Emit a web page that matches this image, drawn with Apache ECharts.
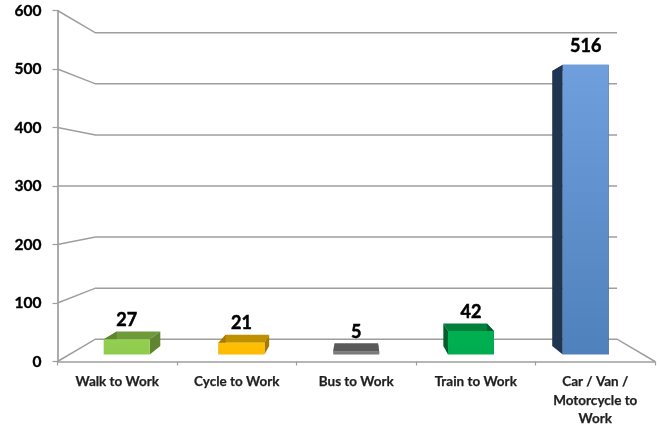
<!DOCTYPE html>
<html>
<head>
<meta charset="utf-8">
<style>
  html, body { margin: 0; padding: 0; background: #fff; }
  #chart { width: 657px; height: 425px; }
</style>
<script src="https://cdn.jsdelivr.net/npm/echarts@6/dist/echarts.min.js"></script>
</head>
<body>
<div id="chart"></div>
<script>
var categories = ['Walk to Work', 'Cycle to Work', 'Bus to Work', 'Train to Work', 'Car / Van /\nMotorcycle to\nWork'];
var values = [27, 21, 5, 42, 516];
var yTicks = [0, 100, 200, 300, 400, 500, 600];
var frontColors = [['#92d050', '#8fcb4d'], ['#ffc000', '#fdbb00'], ['#808080', '#757575'], ['#00b050', '#00ad4e'], ['#6f9fdc', '#4f81bd']];
var topColors = ['#6f9a3a', '#bf9000', '#5a5a5a', '#00803a', '#5a83b8'];
var sideColors = ['#5f8531', '#a67c00', '#4d4d4d', '#00602c', '#1f3550'];

// 透视比例：1 = 前面，数值越小越靠后
var WALL_DEPTH = 0.873;
var BAR_FRONT = 0.96;
var BAR_BACK = 0.911;
var BAR_WIDTH = 0.4;
var LINE_COLOR = '#9e9e9e';

var chart = echarts.init(document.getElementById('chart'));

// 把前面坐标按比例缩向消失点（x轴中点，300刻度）
function projector(api) {
  var left = api.coord([0, 0])[0] - api.size([1, 0])[0] / 2;
  var vx = left + api.size([1, 0])[0] * categories.length / 2;
  var vy = api.coord([0, 300])[1];
  return function (p, s) {
    return [vx + (p[0] - vx) * s, vy + (p[1] - vy) * s];
  };
}

function renderWall(params, api) {
  var project = projector(api);
  var band = api.size([1, 0])[0];
  var v = api.value(0);
  var left = [api.coord([0, v])[0] - band / 2, api.coord([0, v])[1]];
  var right = [left[0] + band * categories.length, left[1]];
  var pts = [left, project(left, WALL_DEPTH), project(right, WALL_DEPTH)];
  if (v === 0) pts.push(right); // 地面右边那条斜线
  return {
    type: 'polyline',
    shape: { points: pts },
    style: { fill: null, stroke: LINE_COLOR, lineWidth: 1.5 }
  };
}

function renderBar(params, api) {
  var project = projector(api);
  var i = api.value(0);
  var v = api.value(1);
  var half = api.size([1, 0])[0] * BAR_WIDTH / 2;
  var base = api.coord([i, 0]);
  var top = api.coord([i, v]);
  function pt(side, upper, s) {
    return project([base[0] + side * half, upper ? top[1] : base[1]], s);
  }
  function face(points, fill) {
    return { type: 'polygon', shape: { points: points }, style: { fill: fill } };
  }
  var frontTop = pt(-1, true, BAR_FRONT);
  var frontTopR = pt(1, true, BAR_FRONT);
  return {
    type: 'group',
    children: [
      // 顶面先画，高柱子的顶面会被侧面和正面盖住
      face([pt(-1, true, BAR_BACK), pt(1, true, BAR_BACK), pt(1, true, BAR_FRONT), pt(-1, true, BAR_FRONT)], topColors[i]),
      face([pt(-1, true, BAR_BACK), pt(-1, true, BAR_FRONT), pt(-1, false, BAR_FRONT), pt(-1, false, BAR_BACK)], sideColors[i]),
      face([pt(1, true, BAR_BACK), pt(1, true, BAR_FRONT), pt(1, false, BAR_FRONT), pt(1, false, BAR_BACK)], sideColors[i]),
      face([frontTop, frontTopR, pt(1, false, BAR_FRONT), pt(-1, false, BAR_FRONT)], {
        type: 'linear', x: 0, y: 0, x2: 0, y2: 1,
        colorStops: [{ offset: 0, color: frontColors[i][0] }, { offset: 1, color: frontColors[i][1] }]
      }),
      {
        type: 'text',
        style: {
          x: (frontTop[0] + frontTopR[0]) / 2,
          y: frontTop[1] - 19,
          text: String(v),
          align: 'center',
          verticalAlign: 'middle',
          font: 'bold 18px Lato',
          fill: '#000',
          stroke: '#000',
          lineWidth: 0.5
        }
      }
    ]
  };
}

var option = {
  animation: false,
  backgroundColor: '#fff',
  grid: { left: 57.5, right: 2, top: 10.5, bottom: 63.5, outerBoundsMode: 'none' },
  xAxis: {
    type: 'category',
    data: categories,
    boundaryGap: true,
    axisLine: { lineStyle: { color: LINE_COLOR, width: 1.5 } },
    axisTick: { show: true, alignWithLabel: false, length: 4, lineStyle: { color: LINE_COLOR, width: 1.2 } },
    axisLabel: { interval: 0, margin: 11, fontFamily: 'Lato', fontWeight: 'bold', fontSize: 13.5, lineHeight: 18.5, color: '#1f1f1f', textBorderColor: '#1f1f1f', textBorderWidth: 0.25 }
  },
  yAxis: {
    type: 'value',
    min: 0,
    max: 600,
    interval: 100,
    splitLine: { show: false },
    axisLine: { show: true, lineStyle: { color: LINE_COLOR, width: 1.7 } },
    axisTick: { show: true, length: 5, lineStyle: { color: LINE_COLOR, width: 1.2 } },
    axisLabel: { margin: 16, fontFamily: 'Lato', fontWeight: 'bold', fontSize: 15.5, color: '#000', textBorderColor: '#000', textBorderWidth: 0.35 }
  },
  series: [
    {
      type: 'custom',
      z: 1,
      silent: true,
      clip: false,
      renderItem: renderWall,
      encode: { x: -1, y: 0 },
      data: yTicks.map(function (t) { return [t]; })
    },
    {
      type: 'custom',
      z: 2,
      silent: true,
      clip: false,
      renderItem: renderBar,
      encode: { x: 0, y: 1 },
      data: values.map(function (v, i) { return [i, v]; })
    }
  ]
};

chart.setOption(option);
</script>
</body>
</html>
